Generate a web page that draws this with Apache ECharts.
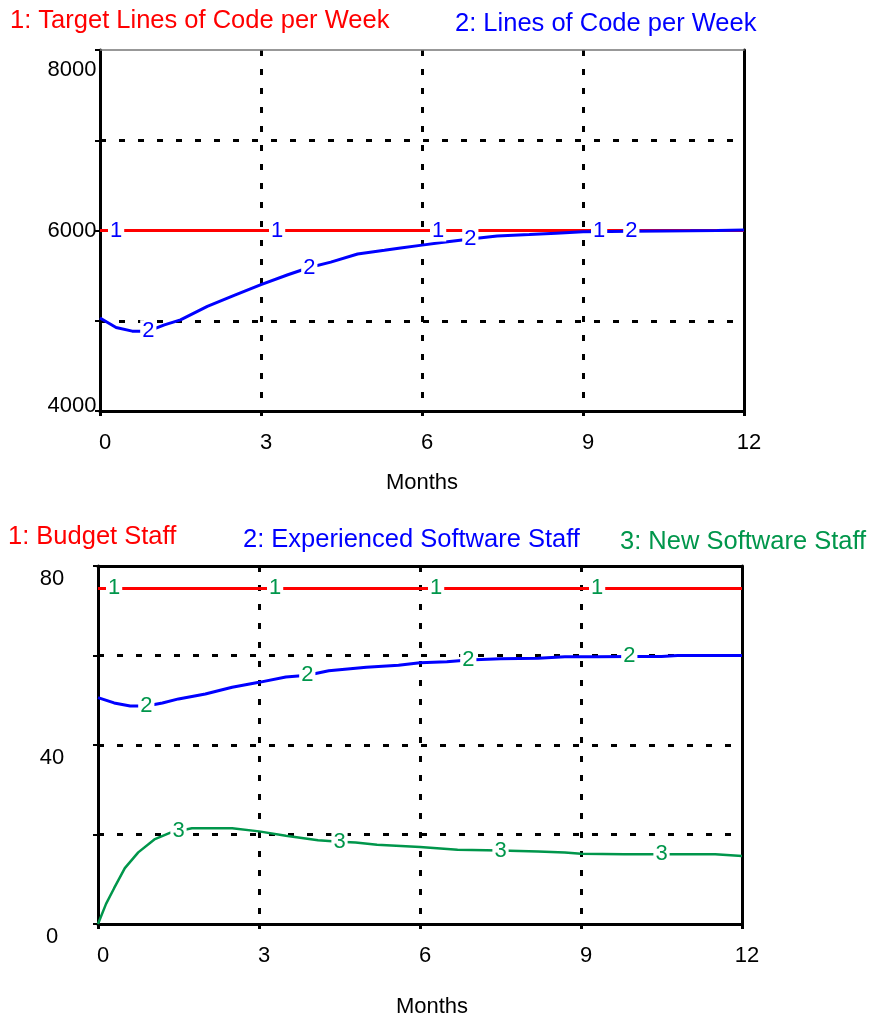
<!DOCTYPE html>
<html>
<head>
<meta charset="utf-8">
<script src="https://cdn.jsdelivr.net/npm/echarts@6/dist/echarts.min.js"></script>
<style>
html,body{margin:0;padding:0;background:#fff;}
#chart{width:871px;height:1019px;}
</style>
</head>
<body>
<div id="chart"></div>
<script>
// ---------- data ----------
const xTicks = [0, 3, 6, 9, 12];
const yTicksTop = [4000, 6000, 8000];
const yTicksBot = [0, 40, 80];

// Top chart
const topMonthsTarget = [0, 0.3, 3.3, 6.3, 9.3, 12];
const targetLOC = [6000, 6000, 6000, 6000, 6000, 6000];
const topMonthsLOC = [0, 0.3, 0.6, 0.9, 1.2, 1.5, 2.0, 2.5, 3.0, 3.5, 3.9, 4.3, 4.8, 5.3, 5.6, 6.0, 6.4, 6.9, 7.4, 8.0, 8.5, 9.0, 9.5, 9.9, 10.5, 11, 11.5, 12];
const linesOfCode = [5030, 4925, 4885, 4885, 4955, 5010, 5160, 5280, 5400, 5510, 5590, 5650, 5740, 5780, 5805, 5838, 5870, 5905, 5940, 5955, 5970, 5985, 5990, 5992, 5995, 5997, 6000, 6005];

// Bottom chart
const botMonthsBudget = [0, 0.3, 3.3, 6.3, 9.3, 12];
const budgetStaff = [75, 75, 75, 75, 75, 75];
const botMonthsExp = [0, 0.3, 0.6, 0.9, 1.2, 1.5, 2, 2.5, 3, 3.5, 3.9, 4.3, 5, 5.6, 6, 6.5, 6.9, 7.5, 8.2, 8.7, 9.3, 9.9, 10.5, 10.8, 11.5, 12];
const expStaff = [50.6, 49.4, 48.7, 48.7, 49.4, 50.3, 51.4, 52.9, 54.0, 55.2, 55.6, 56.6, 57.4, 57.8, 58.4, 58.6, 59.0, 59.3, 59.4, 59.7, 59.7, 59.8, 59.8, 60.0, 60.0, 60.0];
const botMonthsNew = [0, 0.15, 0.3, 0.5, 0.75, 1.05, 1.35, 1.5, 1.75, 2.5, 3, 3.5, 4.1, 4.5, 4.8, 5.2, 6, 6.7, 7.5, 8.2, 8.7, 9, 9.8, 10.5, 11.5, 12];
const newStaff = [0, 4.5, 8, 12.5, 16, 18.9, 20.4, 20.8, 21.4, 21.4, 20.7, 19.7, 18.7, 18.4, 18.2, 17.7, 17.2, 16.6, 16.4, 16.2, 16.0, 15.7, 15.6, 15.6, 15.6, 15.2];

// Series marker positions (months)
const marks1 = [0.3, 3.3, 6.3, 9.3];
const marks2 = [0.9, 3.9, 6.9, 9.9];
const marks3 = [1.5, 4.5, 7.5, 10.5];

// ---------- styles ----------
const RED = '#ff0000', BLUE = '#0000ff', GREEN = '#00964b';
const FONT = '"Liberation Sans", Arial, sans-serif';

function build(months, vals, marks, text, labelColor) {
  return months.map((m, i) => {
    const item = { value: [m, vals[i]] };
    if (marks.some(k => Math.abs(k - m) < 1e-9)) {
      item.label = {
        show: true, position: 'inside', formatter: text,
        color: labelColor, fontSize: 22, fontFamily: FONT,
        backgroundColor: '#fff', padding: [0, 2, 0, 2]
      };
    }
    return item;
  });
}

function lineSeries(xi, yi, data, color, width) {
  return {
    type: 'line', xAxisIndex: xi, yAxisIndex: yi, data: data,
    symbol: 'circle', symbolSize: 0, showSymbol: true,
    lineStyle: { color: color, width: width },
    itemStyle: { color: color },
    label: { show: false },
    emphasis: { disabled: true },
    animation: false, z: 3
  };
}

const dashGrid = { show: true, lineStyle: { color: '#000', width: 3, type: [6, 13] }, showMinLine: false, showMaxLine: false };

function mainX(gi, nameGap, namePad) {
  return {
    gridIndex: gi, type: 'value', min: 0, max: 12, interval: 3,
    name: 'Months', nameLocation: 'middle', nameGap: nameGap,
    nameTextStyle: { fontSize: 22, fontFamily: FONT, color: '#000', padding: namePad },
    axisLine: { show: true, onZero: false, lineStyle: { color: '#000', width: 3 } },
    axisTick: { show: true, length: 5, lineStyle: { color: '#000', width: 3 } },
    axisLabel: {
      fontSize: 22, fontFamily: FONT, color: '#000', margin: 21, padding: [0, 0, 0, 10],
      formatter: v => xTicks.includes(v) ? String(v) : ''
    },
    splitLine: dashGrid
  };
}

function borderX(gi, color, width) {
  return {
    gridIndex: gi, type: 'value', position: 'top', min: 0, max: 12,
    axisLine: { show: true, onZero: false, lineStyle: { color: color, width: width } },
    axisTick: { show: false }, axisLabel: { show: false }, splitLine: { show: false }
  };
}
function borderY(gi) {
  return {
    gridIndex: gi, type: 'value', position: 'right', min: 0, max: 1,
    axisLine: { show: true, onZero: false, lineStyle: { color: '#000', width: 3 } },
    axisTick: { show: false }, axisLabel: { show: false }, splitLine: { show: false }
  };
}

const chart = echarts.init(document.getElementById('chart'), null, { renderer: 'canvas' });

const titleStyle = c => ({ fontSize: 25.5, fontWeight: 'normal', fontFamily: FONT, color: c });

chart.setOption({
  backgroundColor: '#fff',
  animation: false,
  title: [
    { text: '1: Target Lines of Code per Week', left: 10, top: 8, padding: 0, textStyle: titleStyle(RED) },
    { text: '2: Lines of Code per Week', left: 455, top: 11, padding: 0, textStyle: titleStyle(BLUE) },
    { text: '1: Budget Staff', left: 8, top: 524, padding: 0, textStyle: titleStyle(RED) },
    { text: '2: Experienced Software Staff', left: 243, top: 527, padding: 0, textStyle: titleStyle(BLUE) },
    { text: '3: New Software Staff', left: 620, top: 529, padding: 0, textStyle: titleStyle(GREEN) }
  ],
  grid: [
    { left: 100, top: 50, width: 644, height: 361 },
    { left: 98, top: 566, width: 644, height: 359 }
  ],
  xAxis: [
    mainX(0, 61, [0, 0, 0, 0]),
    mainX(1, 72, [0, 0, 0, 24]),
    borderX(0, '#777', 1.5),
    borderX(1, '#000', 3)
  ],
  yAxis: [
    {
      gridIndex: 0, type: 'value', min: 4000, max: 8000, interval: 1000,
      axisLine: { show: true, onZero: false, lineStyle: { color: '#000', width: 3 } },
      axisTick: { show: true, length: 5, lineStyle: { color: '#000', width: 2 } },
      axisLabel: {
        align: 'center', margin: 28, fontSize: 22, fontFamily: FONT, color: '#000',
        formatter: v => {
          if (!yTicksTop.includes(v)) return '';
          const k = v === 8000 ? 'dn' : (v === 4000 ? 'up' : 'mid');
          return '{' + k + '|' + v + '}';
        },
        rich: {
          dn: { fontSize: 22, fontFamily: FONT, color: '#000', padding: [40, 0, 0, 0] },
          mid: { fontSize: 22, fontFamily: FONT, color: '#000' },
          up: { fontSize: 22, fontFamily: FONT, color: '#000', padding: [0, 0, 10, 0] }
        }
      },
      splitLine: dashGrid
    },
    {
      gridIndex: 1, type: 'value', min: 0, max: 80, interval: 20,
      axisLine: { show: true, onZero: false, lineStyle: { color: '#000', width: 3 } },
      axisTick: { show: true, length: 5, lineStyle: { color: '#000', width: 2 } },
      axisLabel: {
        align: 'center', margin: 46, fontSize: 22, fontFamily: FONT, color: '#000',
        formatter: v => yTicksBot.includes(v) ? '{dn|' + v + '}' : '',
        rich: { dn: { fontSize: 22, fontFamily: FONT, color: '#000', padding: [26, 0, 0, 0] } }
      },
      splitLine: dashGrid
    },
    borderY(0),
    borderY(1)
  ],
  series: [
    lineSeries(0, 0, build(topMonthsTarget, targetLOC, marks1, '1', BLUE), RED, 3),
    lineSeries(0, 0, build(topMonthsLOC, linesOfCode, marks2, '2', BLUE), BLUE, 3),
    lineSeries(1, 1, build(botMonthsBudget, budgetStaff, marks1, '1', GREEN), RED, 3),
    lineSeries(1, 1, build(botMonthsExp, expStaff, marks2, '2', GREEN), BLUE, 3),
    lineSeries(1, 1, build(botMonthsNew, newStaff, marks3, '3', GREEN), GREEN, 2.5)
  ]
});
</script>
</body>
</html>
